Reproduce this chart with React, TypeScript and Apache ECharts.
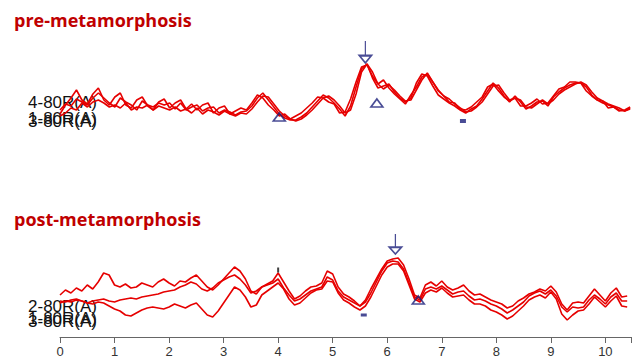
import React, { useEffect, useRef } from "react";
import * as echarts from "echarts";

// retention-time sampling grid (minutes), step 0.1
const retention: number[] = Array.from({ length: 105 }, (_, i) => i / 10);

// pre-metamorphosis traces (relative absorbance)
const pre4: number[] = [46,55,62,70,60,56,66,72,60,55, 63,67,55,52,60,63,54,50,58,61, 52,57,60,51,56,50,55,57,47,52, 54,46,49,52,50, 57,65,62,55,50, 44,46,41,44,47,52,57,63,62,58, 56,47,48,61,78,93,95,84,76,80, 72,66,61,56,65,73,83,86,78,69, 64,58,57,51,50,53,58,63,73,76, 69,63,59,62,54,54,57,61,56,57, 64,71,73,78,78,77,69,64,60,59, 52,53,50,49,52];
const pre3: number[] = [50,56,54,61,58,55,62,67,62,57, 53,62,58,55,50,59,55,53,57,55, 57,51,57,50,53,55,49,52,53,47, 50,48,45,48,49, 54,62,67,60,53, 46,42,40,40,43,47,53,59,65,62, 57,51,44,54,73,91,96,82,72,74, 76,68,62,58,62,77,86,84,74,65, 61,57,54,50,47,51,54,61,69,77, 72,64,58,64,58,51,54,58,59,54, 63,68,72,75,77,77,73,65,60,57, 55,53,49,50,53];
const pre1: number[] = [44,47,52,50,57,53,58,60,57,53, 55,52,57,50,53,52,55,50,54,52, 50,53,49,51,47,52,46,50,48,45, 49,46,44,47,46, 51,58,64,63,56, 49,44,41,39,41,45,50,56,62,64, 60,54,47,50,66,88,96,88,76,71, 75,70,64,59,60,70,80,87,78,70, 64,61,56,52,48,49,53,58,66,74, 75,67,60,62,60,53,52,56,60,56, 60,66,70,73,76,78,75,68,62,59, 56,54,52,49,51];

// post-metamorphosis traces
const post2: number[] = [42,47,44,49,46,52,48,55,64,62, 52,50,53,49,50,54,52,50,55,58, 54,51,56,55,59,62,56,50,47,52, 58,64,70,66,58,46,43,50,53,56, 64,55,46,38,41,46,50,51,54,66, 63,50,43,40,36,31,37,48,58,68, 76,78,79,72,58,42,39,52,55,51, 56,50,47,49,52,46,42,43,40,37, 35,33,29,31,36,39,43,45,48,46, 51,45,33,27,34,35,34,41,48,42, 36,44,49,40,41];
const post1: number[] = [34,36,35,37,36,34,36,37,38,36, 35,37,38,39,38,40,41,42,43,45, 46,47,50,52,55,53,48,46,49,54, 57,60,62,58,52,44,46,50,52,54, 58,49,42,36,38,42,46,48,50,60, 57,46,40,37,34,31,35,44,55,66, 74,76,75,68,54,40,37,48,50,48, 51,47,43,45,46,41,37,38,36,33, 31,28,24,27,31,35,41,44,46,43, 47,41,30,25,30,29,30,37,42,38, 33,40,44,36,36];
const post3: number[] = [36,35,37,38,36,34,33,35,34,31, 28,26,22,21,24,27,29,30,29,28, 30,33,31,29,32,34,28,22,20,26, 34,42,50,47,40,30,32,42,46,50, 54,48,38,32,34,39,44,47,48,56, 55,44,37,34,30,27,31,40,51,62, 70,73,73,66,52,38,35,44,47,45, 49,44,40,41,42,37,33,33,31,27, 25,22,18,21,26,31,37,40,42,39, 45,38,23,17,22,26,27,33,40,35, 30,36,41,31,30];

// peak annotations [retention, height]
const preTriangles: number[][] = [[4.0, 43], [5.78, 57]];
const preDash: number[][] = [[7.35, 39]];
const preArrow: number[][] = [[5.57, 108]];
const preLabel: number[][] = [[5.57, 138]];
const postTriangles: number[][] = [[6.57, 37]];
const postDash: number[][] = [[5.57, 22]];
const postTick: number[][] = [[4.0, 67]];
const postArrow: number[][] = [[6.15, 93]];
const postLabel: number[][] = [[6.15, 124]];

const xTicks = [0, 1, 2, 3, 4, 5, 6, 7, 8, 9, 10];

const RED = "#e60000";
const NAVY = "#1b1f7a";
const ARROW = "path://M6,0 L6,14 M1,14 L11,14 L6,21 Z";

function line(name: string, ys: number[], idx: number) {
  return {
    name,
    type: "line",
    xAxisIndex: idx,
    yAxisIndex: idx,
    data: retention.map((x, i) => [x, ys[i]]),
    symbol: "none",
    smooth: false,
    lineStyle: { color: RED, width: 1.6 },
    z: 3,
  };
}

export default function App() {
  const ref = useRef<HTMLDivElement>(null);
  useEffect(() => {
    document.body.style.margin = "0";
    const chart = echarts.init(ref.current!, null, { renderer: "svg" });
    const xMax = 10.47;
    const label = (text: string, x: number, y: number) => ({
      type: "text",
      x,
      y,
      z: 0,
      style: {
        text,
        textAlign: "right",
        align: "right",
        textVerticalAlign: "middle",
        verticalAlign: "middle",
        fontSize: 17,
        fontFamily: "Liberation Sans",
        fill: "#111111",
      },
    });
    const titleStyle = { color: "#c00000", fontSize: 18, fontWeight: "bold", fontFamily: "Open Sans" };
    const romanLabel = {
      show: true, formatter: "III", position: "inside", color: "#1a1a1a",
      fontSize: 15, fontWeight: "bold", fontFamily: "Liberation Sans",
    };
    const hollow = { color: "rgba(255,255,255,0)", borderColor: NAVY, borderWidth: 1.6 };
    chart.setOption({
      animation: false,
      backgroundColor: "#ffffff",
      title: [
        { text: "pre-metamorphosis", left: 9, top: 6, textStyle: titleStyle },
        { text: "post-metamorphosis", left: 9, top: 205, textStyle: titleStyle },
      ],
      grid: [
        { left: 60, right: 0, top: 15, height: 145 },
        { left: 60, right: 0, top: 195, bottom: 27 },
      ],
      xAxis: [
        { gridIndex: 0, type: "value", min: 0, max: xMax, interval: 1, show: false },
        {
          gridIndex: 1,
          type: "value",
          min: 0,
          max: xMax,
          interval: 1,
          splitLine: { show: false },
          axisLine: { show: true, onZero: false, lineStyle: { color: "#666", width: 1 } },
          axisTick: { show: true, length: 6, lineStyle: { color: "#666" } },
          axisLabel: {
            margin: 8,
            color: "#333",
            fontSize: 13,
            fontFamily: "Liberation Sans",
            formatter: (v: number) => (xTicks.includes(v) ? String(v) : ""),
          },
        },
      ],
      yAxis: [
        { gridIndex: 0, type: "value", min: 0, max: 145, show: false },
        { gridIndex: 1, type: "value", min: 0, max: 142, show: false },
      ],
      graphic: [
        label("4-80R(A)", 97, 102),
        label("1-80R(A)", 97, 118),
        label("3-80R(A)", 97, 121),
        label("2-80R(A)", 97, 306),
        label("1-80R(A)", 97, 318),
        label("3-80R(A)", 97, 321),
      ],
      series: [
        line("4-80R(A) pre", pre4, 0),
        line("3-80R(A) pre", pre3, 0),
        line("1-80R(A) pre", pre1, 0),
        line("2-80R(A) post", post2, 1),
        line("1-80R(A) post", post1, 1),
        line("3-80R(A) post", post3, 1),
        {
          type: "scatter", xAxisIndex: 0, yAxisIndex: 0, data: preTriangles, symbol: "triangle",
          symbolSize: [12, 8], itemStyle: hollow, z: 5,
        },
        {
          type: "scatter", xAxisIndex: 0, yAxisIndex: 0, data: preDash, symbol: "rect",
          symbolSize: [6, 4], itemStyle: { color: NAVY }, z: 5,
        },
        {
          type: "scatter", xAxisIndex: 0, yAxisIndex: 0, data: preArrow, symbol: ARROW, clip: false,
          symbolSize: [12, 22], itemStyle: hollow, z: 5,
        },
        {
          type: "scatter", xAxisIndex: 0, yAxisIndex: 0, data: preLabel, symbol: "none", clip: false,
          label: romanLabel, z: 5,
        },
        {
          type: "scatter", xAxisIndex: 1, yAxisIndex: 1, data: postTriangles, symbol: "triangle",
          symbolSize: [12, 8], itemStyle: hollow, z: 5,
        },
        {
          type: "scatter", xAxisIndex: 1, yAxisIndex: 1, data: postDash, symbol: "rect",
          symbolSize: [6, 3], itemStyle: { color: NAVY }, z: 5,
        },
        {
          type: "scatter", xAxisIndex: 1, yAxisIndex: 1, data: postTick, symbol: "rect",
          symbolSize: [2, 5], itemStyle: { color: "#111" }, z: 5,
        },
        {
          type: "scatter", xAxisIndex: 1, yAxisIndex: 1, data: postArrow, symbol: ARROW, clip: false,
          symbolSize: [12, 20], itemStyle: hollow, z: 5,
        },
        {
          type: "scatter", xAxisIndex: 1, yAxisIndex: 1, data: postLabel, symbol: "none", clip: false,
          label: romanLabel, z: 5,
        },
      ],
    });
    return () => chart.dispose();
  }, []);
  return <div ref={ref} style={{ width: 634, height: 364 }} />;
}
